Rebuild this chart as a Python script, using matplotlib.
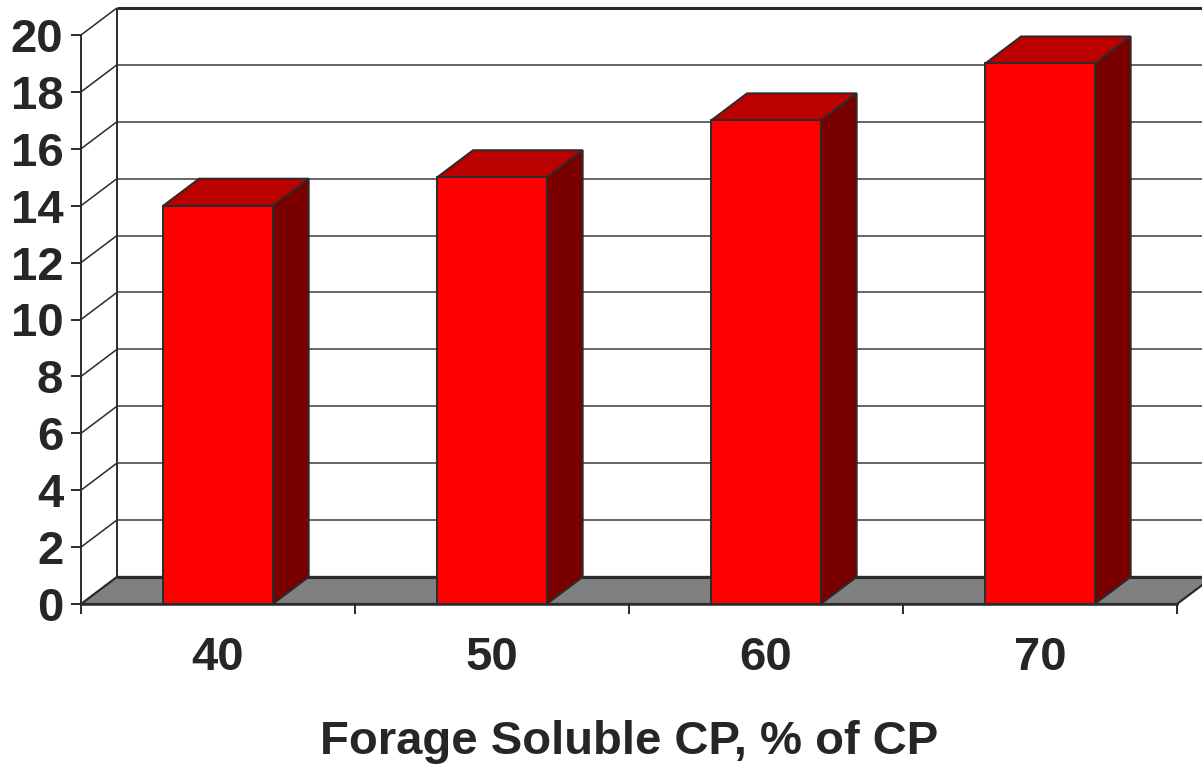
import matplotlib.pyplot as plt
from matplotlib.patches import Polygon

categories = ['40', '50', '60', '70']
values = [14, 15, 17, 19]
yticks = list(range(0, 21, 2))

# depth of the 3D box, in data units (x: categories, y: value)
DX, DY = 0.131, 0.95
BAR_W = 0.4
EDGE = '#2b2b2b'
GRID = '#3c3c3c'
TEXT = '#262626'

plt.rcParams['font.family'] = ['Liberation Sans', 'DejaVu Sans']

fig = plt.figure(figsize=(12.02, 7.64), dpi=100)
ax = fig.add_axes([81 / 1202, 160 / 764, 1096 / 1202, 569 / 764])
ax.set_xlim(0, len(categories))
ax.set_ylim(0, 20)
ax.patch.set_visible(False)
n = len(categories)


def face(pts, fc, z, lw=1.4):
    ax.add_patch(Polygon(pts, closed=True, facecolor=fc, edgecolor=EDGE,
                         lw=lw, joinstyle='miter', zorder=z, clip_on=False))


def line(xs, ys, lw=1.1, color=GRID, z=1):
    ax.plot(xs, ys, color=color, lw=lw, clip_on=False, zorder=z,
            solid_capstyle='butt')


# floor
face([(0, 0), (n, 0), (n + DX, DY), (DX, DY)], '#808080', 2, lw=1.6)
line([DX, n + 1], [DY, DY], lw=2.2, color=EDGE, z=3)

# back wall gridlines and side wall diagonals
for v in yticks[1:]:
    top = v == yticks[-1]
    line([DX, n + 1], [v + DY, v + DY], lw=2.2 if top else 1.1,
         color=EDGE if top else GRID)
    line([0, DX], [v, v + DY], color=EDGE)
line([DX, DX], [DY, 20 + DY], color=EDGE, lw=1.4)

# bars: front, top and side faces
for i, v in enumerate(values):
    x0 = i + 0.5 - BAR_W / 2
    x1 = x0 + BAR_W
    face([(x1, 0), (x1 + DX, DY), (x1 + DX, v + DY), (x1, v)], '#7a0000', 4)
    face([(x0, v), (x1, v), (x1 + DX, v + DY), (x0 + DX, v + DY)], '#bb0000', 4)
    face([(x0, 0), (x1, 0), (x1, v), (x0, v)], '#ff0000', 5)

for s in ['top', 'right']:
    ax.spines[s].set_visible(False)
for s in ['left', 'bottom']:
    ax.spines[s].set_color(EDGE)
    ax.spines[s].set_zorder(6)
ax.spines['left'].set_linewidth(1.4)
ax.spines['bottom'].set_linewidth(1.8)

ax.set_yticks(yticks)
ax.set_yticklabels([str(t) for t in yticks], fontsize=34, fontweight='bold',
                   color=TEXT)
ax.tick_params(axis='y', length=7.2, width=1.4, color=EDGE, pad=5.5)

ax.set_xticks(range(n + 1))
ax.set_xticklabels([''] * (n + 1))
ax.set_xticks([i + 0.5 for i in range(n)], minor=True)
ax.set_xticklabels(categories, minor=True, fontsize=34, fontweight='bold',
                   color=TEXT)
ax.tick_params(axis='x', which='major', length=7.2, width=1.4, color=EDGE)
ax.tick_params(axis='x', which='minor', length=0, pad=23)

ax.set_xlabel('Forage Soluble CP, % of CP', fontsize=34, fontweight='bold',
              color=TEXT, labelpad=29)

fig.savefig('out.png', dpi=100)
